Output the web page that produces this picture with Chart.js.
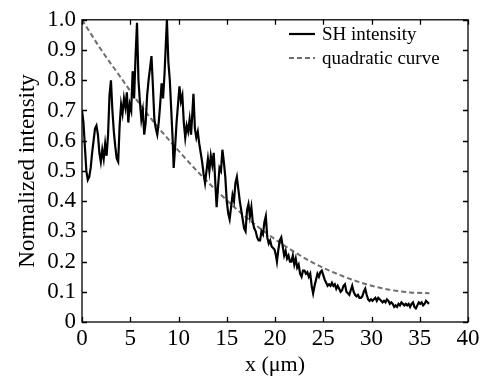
<!DOCTYPE html>
<html>
<head>
<meta charset="utf-8">
<script src="https://cdn.jsdelivr.net/npm/chart.js@4.4.0/dist/chart.umd.min.js"></script>
<style>
html,body{margin:0;padding:0;background:#fff;}
#wrap{width:486px;height:376px;position:relative;}
</style>
</head>
<body>
<div id="wrap"><canvas id="c"></canvas></div>
<script>
// SH intensity
const shX = [0.0,0.15,0.3,0.45,0.6,0.75,0.9,1.05,1.2,1.35,1.5,1.65,1.8,1.95,2.1,2.25,2.4,2.55,2.7,2.85,3.0,3.15,3.3,3.45,3.6,3.75,3.9,4.05,4.2,4.35,4.5,4.65,4.8,4.95,5.1,5.25,5.4,5.55,5.7,5.85,6.0,6.15,6.3,6.45,6.6,6.75,6.9,7.05,7.2,7.35,7.5,7.65,7.8,7.95,8.1,8.25,8.4,8.55,8.7,8.8,8.95,9.1,9.25,9.4,9.5,9.65,9.8,9.95,10.1,10.25,10.4,10.55,10.7,10.85,11.0,11.15,11.3,11.45,11.55,11.7,11.85,12.0,12.15,12.3,12.45,12.6,12.75,12.9,13.05,13.2,13.35,13.5,13.65,13.8,13.95,14.1,14.25,14.4,14.55,14.7,14.85,15.0,15.15,15.3,15.45,15.6,15.75,15.9,16.05,16.2,16.35,16.5,16.65,16.8,16.95,17.1,17.25,17.4,17.55,17.7,17.85,18.0,18.15,18.3,18.45,18.6,18.75,18.9,19.05,19.2,19.35,19.5,19.65,19.8,19.95,20.1,20.2,20.35,20.5,20.65,20.8,20.95,21.1,21.25,21.4,21.55,21.7,21.85,22.0,22.15,22.3,22.45,22.6,22.75,22.9,23.05,23.2,23.35,23.5,23.65,23.8,23.95,24.1,24.25,24.4,24.55,24.7,24.85,25.0,25.15,25.3,25.45,25.6,25.75,25.9,26.05,26.2,26.35,26.5,26.65,26.8,26.95,27.1,27.25,27.4,27.55,27.7,27.85,28.0,28.15,28.3,28.45,28.6,28.75,28.9,29.05,29.2,29.35,29.5,29.65,29.8,29.95,30.1,30.25,30.4,30.55,30.7,30.85,31.0,31.15,31.3,31.45,31.6,31.75,31.9,32.05,32.2,32.35,32.5,32.65,32.8,32.95,33.1,33.25,33.4,33.55,33.7,33.85,34.0,34.15,34.3,34.45,34.6,34.75,34.9,35.05,35.2,35.35,35.5,35.65,35.8,35.95];
const shY = [0.70,0.66,0.58,0.50,0.47,0.48,0.51,0.56,0.60,0.64,0.65,0.62,0.56,0.53,0.57,0.54,0.59,0.55,0.62,0.75,0.80,0.70,0.63,0.58,0.54,0.53,0.65,0.72,0.69,0.74,0.71,0.76,0.66,0.72,0.70,0.83,0.74,0.88,0.99,0.80,0.73,0.67,0.70,0.62,0.66,0.75,0.80,0.84,0.88,0.78,0.67,0.64,0.62,0.66,0.72,0.79,0.74,0.82,0.93,1.00,0.86,0.80,0.70,0.60,0.51,0.58,0.66,0.72,0.78,0.73,0.75,0.66,0.61,0.65,0.63,0.67,0.62,0.70,0.755,0.64,0.61,0.63,0.59,0.56,0.53,0.49,0.46,0.50,0.54,0.50,0.55,0.52,0.56,0.47,0.38,0.45,0.51,0.50,0.57,0.53,0.48,0.40,0.36,0.34,0.38,0.42,0.40,0.46,0.48,0.44,0.40,0.37,0.34,0.31,0.30,0.37,0.39,0.35,0.38,0.33,0.31,0.30,0.28,0.27,0.27,0.30,0.29,0.33,0.35,0.28,0.26,0.27,0.25,0.245,0.24,0.22,0.20,0.24,0.27,0.28,0.25,0.22,0.235,0.21,0.22,0.20,0.20,0.22,0.19,0.21,0.18,0.19,0.16,0.15,0.17,0.17,0.16,0.165,0.15,0.16,0.12,0.095,0.12,0.14,0.16,0.15,0.165,0.17,0.155,0.14,0.13,0.12,0.125,0.12,0.13,0.12,0.125,0.11,0.12,0.11,0.10,0.105,0.12,0.125,0.10,0.095,0.09,0.105,0.12,0.10,0.09,0.085,0.09,0.08,0.08,0.085,0.10,0.11,0.09,0.075,0.07,0.075,0.07,0.075,0.08,0.07,0.08,0.075,0.07,0.065,0.07,0.065,0.075,0.07,0.06,0.065,0.06,0.05,0.055,0.05,0.06,0.055,0.065,0.06,0.055,0.06,0.055,0.06,0.05,0.06,0.065,0.05,0.045,0.055,0.065,0.06,0.065,0.055,0.06,0.07,0.065,0.06];
// quadratic curve
const qX = [0,2,4,6,8,10,12,14,16,18,20,22,24,26,28,30,32,34,36];
const qY = [1.0,0.90,0.81,0.72,0.64,0.567,0.497,0.433,0.374,0.321,0.274,0.232,0.195,0.165,0.14,0.12,0.106,0.098,0.095];
// axis ticks
const xTicks = [0,5,10,15,20,25,30,35,40];
const yTicks = [0,0.1,0.2,0.3,0.4,0.5,0.6,0.7,0.8,0.9,1.0];
const seriesLabels = ['SH intensity','quadratic curve'];

const FONT = "'Liberation Serif', 'Times New Roman', serif";

const frameTicks = {
  id:'frameTicks',
  afterDraw(chart){
    const {ctx, chartArea:{left,right,top,bottom}, scales:{x,y}} = chart;
    ctx.save();
    ctx.strokeStyle = '#000';
    ctx.lineWidth = 1.3;
    ctx.strokeRect(left, top, right-left, bottom-top);
    const L = 5;
    ctx.beginPath();
    xTicks.forEach(v=>{
      const px = Math.round(x.getPixelForValue(v))+0.5;
      ctx.moveTo(px,bottom); ctx.lineTo(px,bottom-L);
      ctx.moveTo(px,top); ctx.lineTo(px,top+L);
    });
    yTicks.forEach(v=>{
      const py = Math.round(y.getPixelForValue(v))+0.5;
      ctx.moveTo(left,py); ctx.lineTo(left+L,py);
      ctx.moveTo(right,py); ctx.lineTo(right-L,py);
    });
    ctx.stroke();
    // legend
    const ds = chart.data.datasets;
    const lx0 = 289, lx1 = 315, tx = 322;
    const rows = [34, 58];
    ctx.font = "19px " + FONT;
    ctx.textBaseline = 'middle';
    ctx.fillStyle = '#000';
    ds.forEach((d,i)=>{
      ctx.beginPath();
      ctx.strokeStyle = d.borderColor;
      ctx.lineWidth = d.borderWidth;
      ctx.setLineDash(d.borderDash || []);
      ctx.moveTo(lx0, rows[i]); ctx.lineTo(lx1, rows[i]);
      ctx.stroke();
      ctx.setLineDash([]);
      ctx.fillText(d.label, tx, rows[i]+1);
    });
    ctx.restore();
  }
};

new Chart(document.getElementById('c'), {
  type:'line',
  data:{
    datasets:[
      {label:seriesLabels[0], data: shX.map((v,i)=>({x:v,y:shY[i]})), borderColor:'#000', borderWidth:2.2, pointRadius:0, tension:0, fill:false},
      {label:seriesLabels[1], data: qX.map((v,i)=>({x:v,y:qY[i]})), borderColor:'#6e6e6e', borderWidth:2, borderDash:[5,3], pointRadius:0, tension:0.4, cubicInterpolationMode:'monotone', fill:false}
    ]
  },
  options:{
    responsive:true,
    maintainAspectRatio:false,
    animation:false,
    layout:{padding:{top:17,right:18,left:0,bottom:0}},
    plugins:{legend:{display:false}, tooltip:{enabled:false}},
    scales:{
      x:{
        type:'linear', min:0, max:40,
        afterBuildTicks(s){ s.ticks = xTicks.map(v=>({value:v})); },
        afterFit(s){ s.height = 54; },
        grid:{display:false, drawTicks:false},
        border:{display:false},
        ticks:{color:'#000', font:{family:FONT, size:23}, padding:3, maxRotation:0, autoSkip:false},
        title:{display:true, text:'x (μm)', color:'#000', font:{family:FONT, size:22, lineHeight:1.0}, padding:{top:0,bottom:0}}
      },
      y:{
        type:'linear', min:0, max:1.0,
        afterBuildTicks(s){ s.ticks = yTicks.map(v=>({value:v})); },
        afterFit(s){ s.width = 82; },
        grid:{display:false, drawTicks:false},
        border:{display:false},
        ticks:{color:'#000', font:{family:FONT, size:23}, padding:6, autoSkip:false,
          callback:(v)=> v===0 ? '0' : Number(v).toFixed(1)},
        title:{display:true, text:'Normalized intensity', color:'#000', font:{family:FONT, size:23, lineHeight:1.0}, padding:{top:16,bottom:0}}
      }
    }
  },
  plugins:[frameTicks]
});
</script>
</body>
</html>
